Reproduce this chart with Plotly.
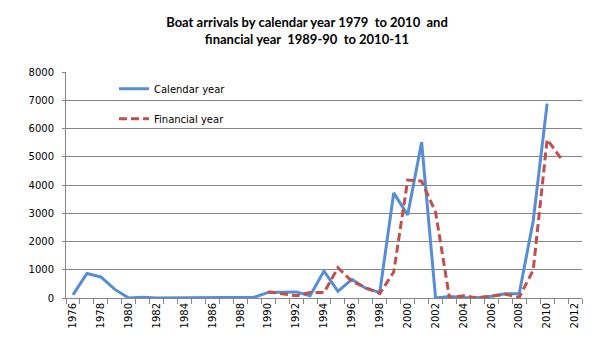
import plotly.graph_objects as go

years = list(range(1976, 2013))
cal_years = list(range(1976, 2011))
calendar = [111, 868, 746, 304, 0, 30, 0, 0, 0, 0, 0, 0, 0, 26,
            198, 214, 216, 81, 953, 237, 660, 339, 200, 3721, 2939, 5516,
            1, 53, 15, 11, 60, 148, 161, 2726, 6879]
fin_years = list(range(1990, 2012))
financial = [224, 158, 78, 194, 194, 1071, 589, 365, 157, 921, 4175, 4137,
             3039, 0, 82, 0, 61, 133, 25, 985, 5609, 4940]
tick_labels = [str(y) for y in range(1976, 2013, 2)]

fig = go.Figure()
fig.add_trace(go.Scatter(x=cal_years, y=calendar, mode="lines", name="Calendar year",
                         line=dict(color="#558ED5", width=3), legendgroup="a"))
fig.add_trace(go.Scatter(x=fin_years, y=financial, mode="lines", name="Financial year",
                         line=dict(color="#C0504D", width=3, dash="8px,4px"), legendgroup="b"))

fig.update_layout(
    width=598, height=353,
    margin=dict(l=58, r=24, t=64, b=63),
    paper_bgcolor="white", plot_bgcolor="white",
    title=dict(text="<b>Boat arrivals by calendar year 1979  to 2010  and<br>financial year  1989-90  to 2010-11</b>",
               x=0.5, xanchor="center", y=0.945, yanchor="top",
               font=dict(family="Lato", size=13, color="black")),
    font=dict(family="DejaVu Sans", size=10, color="black"),
    showlegend=True,
    legend=dict(x=0.093, y=0.99, xanchor="left", yanchor="top", bgcolor="rgba(0,0,0,0)",
                font=dict(family="DejaVu Sans", size=10), tracegroupgap=11,
                traceorder="grouped"),
    xaxis=dict(range=[1975.5, 2012.5], tickmode="array",
               tickvals=list(range(1976, 2013, 2)), ticktext=tick_labels,
               tickangle=-90, ticks="", showgrid=False, showline=True,
               linecolor="#868686", linewidth=1, zeroline=False,
               tickfont=dict(family="DejaVu Sans", size=10),
               minor=dict(ticks="outside", ticklen=5, tickcolor="#868686",
                          tick0=1975.5, dtick=1, showgrid=False)),
    yaxis=dict(range=[0, 8000], dtick=1000, showgrid=True, gridcolor="#868686",
               gridwidth=1, showline=True, linecolor="#868686", zeroline=False,
               ticks="outside", ticklen=3, tickcolor="#868686",
               ticklabelstandoff=6,
               tickfont=dict(family="DejaVu Sans", size=10)),
)

fig.write_html("out.html")
